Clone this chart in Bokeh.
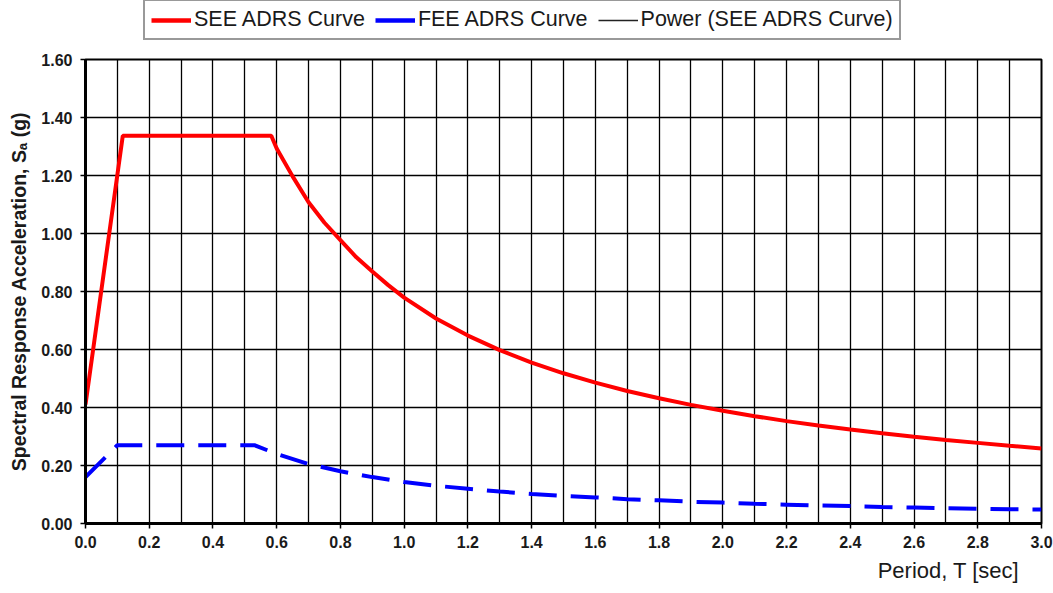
from bokeh.plotting import figure
from bokeh.layouts import column
from bokeh.models import (Legend, LegendItem, FixedTicker, NumeralTickFormatter,
                          Range1d, Title)
from bokeh.embed import file_html
from bokeh.resources import INLINE

# ---- data ----
see_T = [0.0, 0.117, 0.583, 0.6, 0.65, 0.7, 0.75, 0.8, 0.85, 0.9, 0.95, 1.0, 1.1,
         1.2, 1.3, 1.4, 1.5, 1.6, 1.7, 1.8, 1.9, 2.0, 2.1, 2.2, 2.3, 2.4, 2.5,
         2.6, 2.7, 2.8, 2.9, 3.0]
see_Sa = [0.41, 1.337, 1.337, 1.293, 1.197, 1.108, 1.037, 0.977, 0.918, 0.869,
          0.822, 0.779, 0.707, 0.648, 0.598, 0.555, 0.518, 0.486, 0.457, 0.432,
          0.409, 0.389, 0.370, 0.353, 0.338, 0.324, 0.311, 0.299, 0.288, 0.278,
          0.268, 0.259]

fee_T = [0.0, 0.1, 0.53, 0.6, 0.7, 0.8, 0.9, 1.0, 1.1, 1.2, 1.3, 1.4, 1.5, 1.6,
         1.7, 1.8, 1.9, 2.0, 2.1, 2.2, 2.3, 2.4, 2.5, 2.6, 2.7, 2.8, 2.9, 3.0]
fee_Sa = [0.16, 0.27, 0.27, 0.24, 0.205, 0.18, 0.16, 0.143, 0.130, 0.120, 0.110,
          0.102, 0.095, 0.090, 0.084, 0.080, 0.075, 0.072, 0.068, 0.065, 0.062,
          0.060, 0.057, 0.055, 0.053, 0.051, 0.049, 0.048]

power_T = [0.6, 0.65, 0.7, 0.75, 0.8, 0.85, 0.9, 0.95, 1.0, 1.1, 1.2, 1.3, 1.4,
           1.5, 1.6, 1.7, 1.8, 1.9, 2.0, 2.1, 2.2, 2.3, 2.4, 2.5, 2.6, 2.7, 2.8,
           2.9, 3.0]
power_Sa = [1.293, 1.197, 1.108, 1.037, 0.977, 0.918, 0.869, 0.822, 0.779, 0.707,
            0.648, 0.598, 0.555, 0.518, 0.486, 0.457, 0.432, 0.409, 0.389, 0.370,
            0.353, 0.338, 0.324, 0.311, 0.299, 0.288, 0.278, 0.268, 0.259]

series_names = ["SEE ADRS Curve", "FEE ADRS Curve", "Power (SEE ADRS Curve)"]

x_ticks = [0.0, 0.2, 0.4, 0.6, 0.8, 1.0, 1.2, 1.4, 1.6, 1.8, 2.0, 2.2, 2.4, 2.6, 2.8, 3.0]
x_grid = [0.1, 0.2, 0.3, 0.4, 0.5, 0.6, 0.7, 0.8, 0.9, 1.0, 1.1, 1.2, 1.3, 1.4, 1.5,
          1.6, 1.7, 1.8, 1.9, 2.0, 2.1, 2.2, 2.3, 2.4, 2.5, 2.6, 2.7, 2.8, 2.9]
y_ticks = [0.0, 0.2, 0.4, 0.6, 0.8, 1.0, 1.2, 1.4, 1.6]

FONT = "Liberation Sans"
TXT = "#1a1a1a"
RED = "#FF0000"
BLUE = "#0000FF"

# ---------------- main chart ----------------
p = figure(width=1053, height=547, output_backend="svg", toolbar_location=None,
           x_range=Range1d(0, 3.0), y_range=Range1d(0, 1.6),
           min_border_left=85, min_border_right=12, min_border_top=14,
           min_border_bottom=69)
p.background_fill_color = "white"
p.border_fill_color = "white"
p.outline_line_color = "black"
p.outline_line_width = 2

p.xgrid.ticker = FixedTicker(ticks=x_grid)
p.ygrid.ticker = FixedTicker(ticks=y_ticks)
for g in (p.xgrid, p.ygrid):
    g.grid_line_color = "black"
    g.grid_line_width = 1.3
    g.grid_line_alpha = 1.0

p.xaxis.ticker = FixedTicker(ticks=x_ticks)
p.yaxis.ticker = FixedTicker(ticks=y_ticks)
p.xaxis.formatter = NumeralTickFormatter(format="0.0")
p.yaxis.formatter = NumeralTickFormatter(format="0.00")
for ax in (p.xaxis, p.yaxis):
    ax.axis_line_color = "black"
    ax.axis_line_width = 3
    ax.major_tick_line_color = "black"
    ax.major_tick_line_width = 1.5
    ax.major_tick_out = 5
    ax.major_tick_in = 0
    ax.minor_tick_line_color = None
    ax.major_label_text_font = FONT
    ax.major_label_text_font_style = "bold"
    ax.major_label_text_font_size = "16px"
    ax.major_label_text_color = TXT
p.xaxis.major_label_standoff = 7
p.yaxis.major_label_standoff = 8

p.yaxis.axis_label = "Spectral Response Acceleration, Sₐ (g)"
p.yaxis.axis_label_text_font = FONT
p.yaxis.axis_label_text_font_style = "bold"
p.yaxis.axis_label_text_font_size = "19.5px"
p.yaxis.axis_label_text_color = TXT
p.yaxis.axis_label_standoff = 8

xt = Title(text="Period, T [sec]", align="right", text_font=FONT,
           text_font_style="normal", text_font_size="22px", text_color=TXT,
           offset=22, standoff=10)
p.add_layout(xt, "below")

p.line(power_T, power_Sa, line_color="black", line_width=1)
p.line(see_T, see_Sa, line_color=RED, line_width=4)
p.line(fee_T, fee_Sa, line_color=BLUE, line_width=4, line_dash="28 14")

# ---------------- legend strip ----------------
# legend-only copies of the series; the strip's ranges keep them out of view
lg = figure(width=1053, height=45, output_backend="svg", toolbar_location=None,
            x_axis_type=None, y_axis_type=None,
            x_range=Range1d(10, 11), y_range=Range1d(10, 11),
            min_border=0)
lg.outline_line_color = None
lg.xgrid.visible = False
lg.ygrid.visible = False
k_see = lg.line(see_T, see_Sa, line_color=RED, line_width=4.5)
k_fee = lg.line(fee_T, fee_Sa, line_color=BLUE, line_width=4.5)
k_pow = lg.line(power_T, power_Sa, line_color="#222222", line_width=1.5)

legend = Legend(items=[LegendItem(label=series_names[0], renderers=[k_see]),
                       LegendItem(label=series_names[1], renderers=[k_fee]),
                       LegendItem(label=series_names[2], renderers=[k_pow])],
                orientation="horizontal", location=(58, 5),
                label_text_font=FONT, label_text_font_size="21.5px",
                label_text_color=TXT, label_height=22,
                glyph_width=40, glyph_height=22, label_standoff=3, spacing=10,
                padding=6, margin=0,
                border_line_color="#333333", border_line_width=2,
                background_fill_color="white", background_fill_alpha=1.0)
lg.add_layout(legend)

layout = column(lg, p, spacing=0)
open("out.html", "w").write(file_html(layout, INLINE))
